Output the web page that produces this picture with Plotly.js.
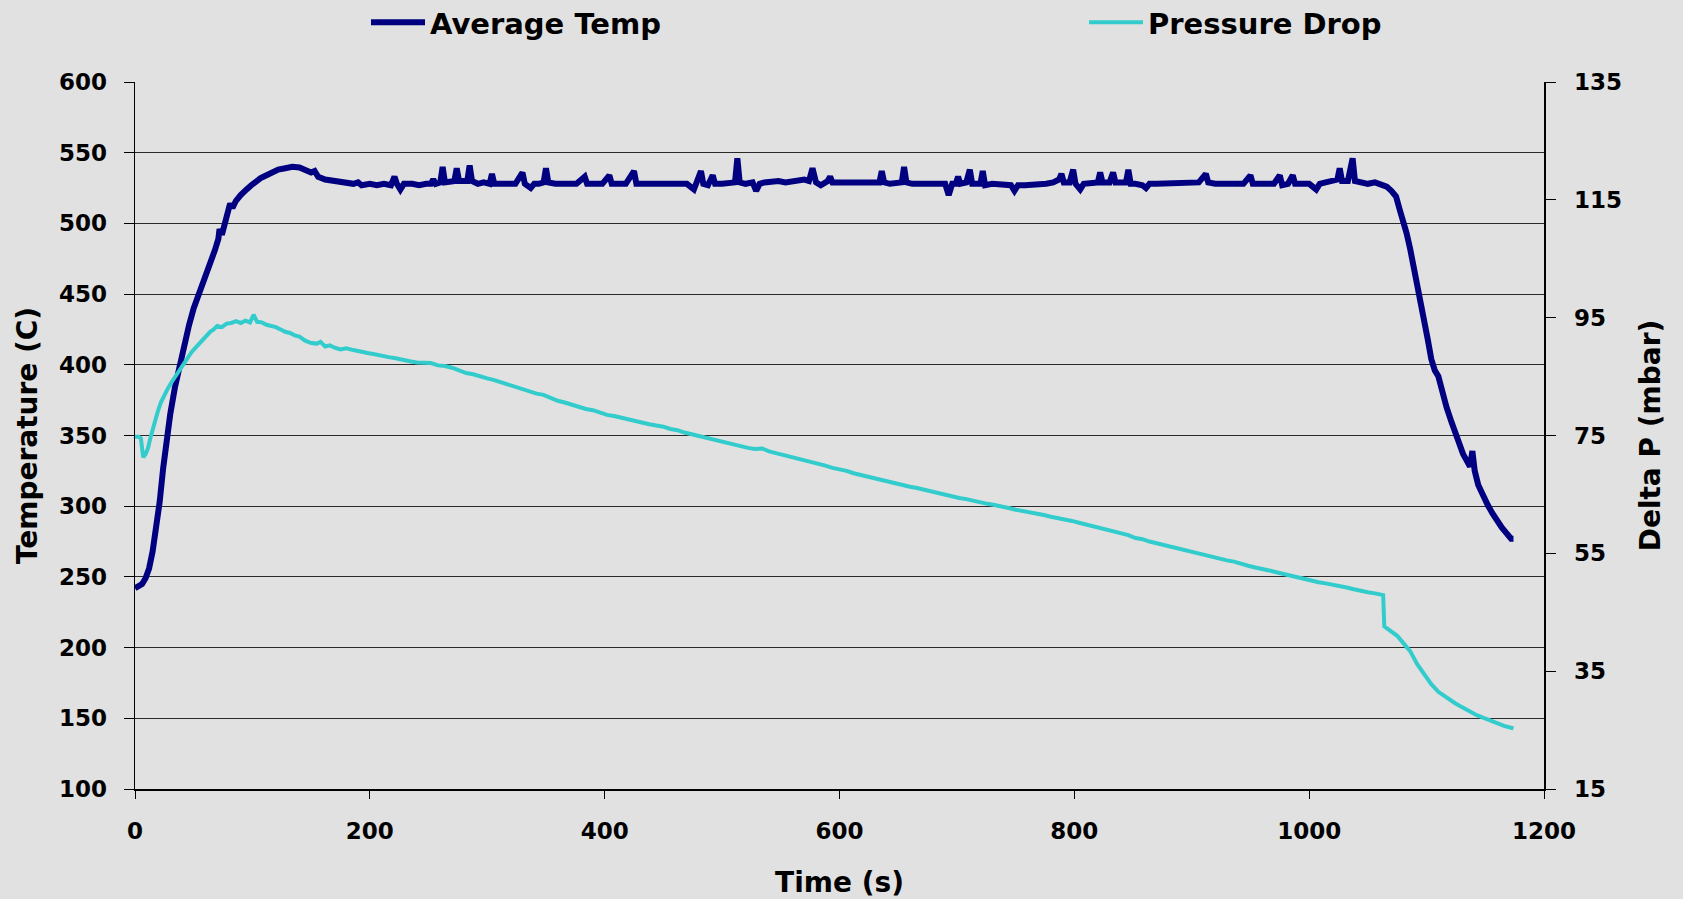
<!DOCTYPE html>
<html>
<head>
<meta charset="utf-8">
<script src="https://cdn.plot.ly/plotly-3.0.1.min.js"></script>
<style>
  html, body { margin: 0; padding: 0; background: #e1e1e1; }
  #chart { width: 1683px; height: 899px; }
</style>
</head>
<body>
<div id="chart"></div>
<script>
// ---- Data ----
const seriesNames = ["Average Temp", "Pressure Drop"];

const tempTime = [
  0,3,6,9,12,15,18,21,24,27,
  30,34,38,42,46,50,55,60,64,68,
  71,72,74,77,80,81,83,86,90,93,
  95,99,103,107,112,117,122,128,134,140,
  146,150,153,156,162,170,178,186,190,193,
  200,206,212,218,221,223,226,229,236,242,
  248,252,254,256,260,262,264,268,272,274,
  276,280,283,285,287,292,297,302,304,306,
  312,318,324,330,332,337,340,344,348,350,
  352,358,364,370,376,383,385,392,398,404,
  406,412,418,425,427,434,440,446,452,458,
  464,470,476,478,482,484,488,492,494,500,
  506,511,513,515,520,526,529,532,536,542,
  548,554,560,566,570,574,577,580,584,590,
  592,594,600,606,612,618,624,630,634,636,
  638,643,648,653,655,657,662,668,674,680,
  686,690,693,696,699,701,703,708,711,713,
  717,720,722,724,730,736,742,746,749,752,
  758,764,770,776,782,787,789,791,796,799,
  801,805,808,814,820,822,824,830,833,835,
  840,844,846,848,852,858,861,864,870,876,
  882,888,894,900,906,912,914,920,926,932,
  938,944,950,952,958,964,970,975,977,982,
  986,988,994,1000,1006,1009,1014,1020,1024,1026,
  1028,1033,1037,1039,1044,1050,1056,1062,1066,1070,
  1074,1077,1080,1083,1086,1089,1092,1095,1098,1101,
  1104,1107,1110,1113,1117,1121,1125,1128,1131,1134,
  1137,1139,1141,1144,1148,1152,1156,1160,1164,1168,
  1172,1174
];
const tempValues = [
  242,243,245,249,256,268,285,303,327,350,
  365,384,400,415,428,440,451,461,470,481,
  489,496,492,502,510,514,511,516,520,523,
  524,527,530,532,534,536,538,539,540,539.5,
  538,536,537,533,531,530,529,528,529,527,
  528,527,528,527,533,528,524,528,528,527,
  528,528,531,528,529,540,529,530,530,539,
  530,530,530,541,530,528,529,528,535,528,
  528,528,528,536,528,525,528,528,529,539,
  529,528,528,528,528,533,528,528,528,534,
  528,528,528,537,528,528,528,528,527,528,
  528,528,524,528,537,528,527,534,528,528,
  528,529,546,529,528,529,523,528,529,530,
  530,529,530,530,531,530,539,529,527,530,
  533,529,529,529,528,528,529,529,529,537,
  529,528,529,529,540,529,528,528,527,528,
  528,528,520,528,528,533,528,529,538,528,
  528,528,537,527,528,528,527,527,523,527,
  527,527,528,528,529,531,535,529,529,538,
  528,524,528,528,529,536,529,529,536,529,
  529,529,538,528,528,527,525,528,528,528,
  528,528,529,529,529,535,529,528,528,528,
  528,528,534,528,528,528,528,534,527,528,
  534,528,528,528,524,528,529,530,531,539,
  530,530,546,530,529,528,529,527,526,523,
  519,510,503,493,482,470,457,445,432,418,
  404,396,392,381,370,360,352,344,337,333,
  328,339,325,315,307,301,295,289,285,281,
  277,277
];

const pressTime = [
  0,3,5,7,9,11,13,16,19,22,
  25,28,31,34,37,40,44,48,52,56,
  60,64,67,70,74,78,82,86,90,94,
  98,101,104,108,112,116,120,124,128,132,
  136,140,145,150,155,158,162,166,170,175,
  180,186,192,198,204,210,216,222,228,234,
  240,246,252,258,264,270,276,282,288,294,
  300,306,312,318,324,330,336,342,348,354,
  360,366,372,378,384,390,396,402,408,414,
  420,426,432,438,444,450,456,462,468,474,
  480,486,492,498,504,510,516,522,528,534,
  540,546,552,558,564,570,576,582,588,594,
  600,606,612,618,624,630,636,642,648,654,
  660,666,672,678,684,690,696,702,708,714,
  720,726,732,738,744,750,756,762,768,774,
  780,786,792,798,804,810,816,822,828,834,
  840,846,852,858,864,870,876,882,888,894,
  900,906,912,918,924,930,936,942,948,954,
  960,966,972,978,984,990,996,1002,1008,1014,
  1020,1026,1032,1038,1044,1050,1056,1060,1063,1064,
  1066,1070,1075,1080,1086,1092,1098,1104,1110,1117,
  1124,1130,1136,1142,1148,1154,1160,1166,1172,1174
];
const pressValues = [
  74.8,74.8,74.5,71.3,71.8,72.8,74.5,76.8,78.8,80.6,
  82.0,83.0,84.0,84.9,85.9,86.9,88.0,89.1,90.0,90.9,
  91.6,92.6,93.0,93.6,93.4,94.0,94.1,94.4,94.1,94.5,
  94.2,95.5,94.3,94.2,93.8,93.6,93.4,93.0,92.6,92.4,
  92.0,91.8,91.1,90.7,90.6,90.9,90.1,90.3,89.9,89.6,
  89.8,89.5,89.2,89.0,88.8,88.5,88.3,88.1,87.8,87.6,
  87.4,87.3,87.3,86.9,86.8,86.5,86.0,85.6,85.4,85.0,
  84.7,84.4,84.0,83.6,83.2,82.8,82.4,82.1,81.9,81.4,
  80.9,80.6,80.2,79.8,79.5,79.3,78.9,78.5,78.3,78.0,
  77.7,77.5,77.2,76.9,76.7,76.5,76.1,75.9,75.5,75.2,
  75.0,74.6,74.3,74.0,73.8,73.4,73.2,72.9,72.7,72.8,
  72.3,72.0,71.8,71.5,71.2,70.8,70.6,70.3,69.9,69.5,
  69.3,69.0,68.6,68.3,68.1,67.8,67.5,67.1,66.8,66.6,
  66.3,66.1,65.8,65.5,65.2,64.9,64.7,64.4,64.2,63.9,
  63.7,63.4,63.2,63.0,62.7,62.4,62.2,62.0,61.8,61.5,
  61.2,61.0,60.8,60.5,60.2,59.9,59.6,59.3,59.0,58.8,
  58.4,58.1,57.6,57.4,57.0,56.7,56.4,56.1,55.8,55.5,
  55.2,54.9,54.6,54.3,54.1,53.8,53.6,53.2,52.9,52.6,
  52.4,52.1,51.8,51.5,51.2,50.9,50.6,50.4,50.1,49.9,
  49.7,49.4,49.2,48.9,48.6,48.4,48.2,48.0,47.9,42.6,
  42.3,41.8,41.0,39.8,38.4,36.2,34.4,32.8,31.5,30.5,
  29.6,28.9,28.2,27.6,27.1,26.6,26.1,25.7,25.4,25.3
];

const xTicks = [0, 200, 400, 600, 800, 1000, 1200];
const yTicks = [100, 150, 200, 250, 300, 350, 400, 450, 500, 550, 600];
const y2Ticks = [15, 35, 55, 75, 95, 115, 135];

// ---- Styling ----
const FONT = "DejaVu Sans, Verdana, sans-serif";
const tickFont = { family: FONT, size: 23, color: "#000", weight: "bold" };
const titleFont = { family: FONT, size: 28, color: "#000", weight: "bold" };
const legendFont = { family: FONT, size: 29, color: "#000", weight: "bold" };

const traces = [
  {
    x: tempTime, y: tempValues, name: seriesNames[0],
    type: "scatter", mode: "lines",
    line: { color: "#000080", width: 6 },
    xaxis: "x", yaxis: "y", legend: "legend"
  },
  {
    x: pressTime, y: pressValues, name: seriesNames[1],
    type: "scatter", mode: "lines",
    line: { color: "#33CCCC", width: 4 },
    xaxis: "x", yaxis: "y2", legend: "legend2"
  }
];

const legendBase = {
  xref: "container", yref: "container",
  xanchor: "left", yanchor: "middle",
  y: 0.975,
  font: legendFont,
  bgcolor: "rgba(0,0,0,0)",
  borderwidth: 0,
  itemwidth: 54,
  orientation: "h"
};

const layout = {
  width: 1683, height: 899,
  margin: { l: 135, r: 139, t: 82, b: 110, pad: 0 },
  paper_bgcolor: "#e1e1e1",
  plot_bgcolor: "#e1e1e1",
  showlegend: true,
  legend: Object.assign({}, legendBase, { x: 366 / 1683 }),
  legend2: Object.assign({}, legendBase, { x: 1084 / 1683 }),
  xaxis: {
    range: [0, 1200],
    tickvals: xTicks, ticktext: xTicks.map(String),
    ticks: "outside", ticklen: 8, tickwidth: 1, tickcolor: "#000",
    showline: true, linecolor: "#000", linewidth: 1.5,
    showgrid: false, zeroline: false,
    tickfont: tickFont,
    ticklabelstandoff: 13,
    title: { text: "Time (s)", font: titleFont, standoff: 29 },
    automargin: false
  },
  yaxis: {
    range: [100, 600],
    tickvals: yTicks, ticktext: yTicks.map(String),
    ticks: "outside", ticklen: 10, tickwidth: 1, tickcolor: "#000",
    showline: true, linecolor: "#000", linewidth: 1.5,
    showgrid: true, gridcolor: "#2a2a2a", gridwidth: 1,
    zeroline: false,
    tickfont: tickFont,
    ticklabelstandoff: 12,
    title: { text: "Temperature (C)", font: titleFont, standoff: 13 },
    automargin: false
  },
  yaxis2: {
    range: [15, 135],
    tickvals: y2Ticks, ticktext: y2Ticks.map(String),
    overlaying: "y", side: "right",
    ticks: "outside", ticklen: 10, tickwidth: 1, tickcolor: "#000",
    showline: true, linecolor: "#000", linewidth: 1.5,
    showgrid: false, zeroline: false,
    tickfont: tickFont,
    ticklabelstandoff: 14,
    title: { text: "Delta P (mbar)", font: titleFont, standoff: 19 },
    automargin: false
  },
  yaxis3: {
    range: [15, 135],
    tickvals: y2Ticks,
    overlaying: "y", side: "right",
    ticks: "inside", ticklen: 10, tickwidth: 1, tickcolor: "#000",
    showticklabels: false, showline: false, showgrid: false, zeroline: false
  }
};

Plotly.newPlot("chart", traces, layout, { displayModeBar: false, staticPlot: true });
</script>
</body>
</html>
